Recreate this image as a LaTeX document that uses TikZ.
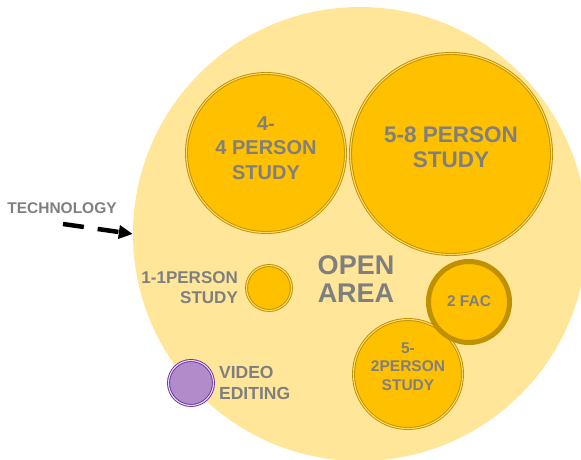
\documentclass[tikz,border=0pt]{standalone}
\usepackage{fontspec}
\setmainfont{Liberation Sans}
\usetikzlibrary{arrows.meta,positioning}

\definecolor{paleyellow}{HTML}{FFE699}
\definecolor{roomgold}{HTML}{FFC000}
\definecolor{rimgold}{HTML}{BF9000}
\definecolor{gapgold}{HTML}{FFD966}
\definecolor{labelgray}{HTML}{7F7F7F}
\definecolor{videopurple}{HTML}{B18CCB}
\definecolor{rimpurple}{HTML}{7030A0}
\definecolor{gappurple}{HTML}{E8DAF2}

\newcommand{\fsz}[2]{\bfseries\fontsize{#1}{#2}\selectfont}

\begin{document}
\begin{tikzpicture}[x=1pt,y=-1pt,
    room/.style={circle,inner sep=0pt,fill=roomgold,draw=rimgold,line width=0.9pt,double=gapgold,double distance=1.1pt},
    label/.style={inner sep=0pt,text=labelgray,align=center}]
    \useasboundingbox (0,0) rectangle (581,460);

    % open area
    \node[circle,inner sep=0pt,fill=paleyellow,minimum size=454pt] (open) at (360,234) {};
    \node[label,font=\fsz{27}{28}] (openlbl) at (356,279) {OPEN\\AREA};

    % study rooms
    \node[room,minimum size=159pt] (four) at (266,153) {};
    \node[label,font=\fsz{20}{24.5}] (fourlbl) at ([yshift=5pt]four.center) {4-\\4 PERSON\\STUDY};

    \node[room,minimum size=201pt] (eight) at (451,154) {};
    \node[label,font=\fsz{22.5}{25}] (eightlbl) at ([yshift=6.5pt]eight.center) {5-8 PERSON\\STUDY};

    \node[room,minimum size=45pt] (one) at (269,288) {};
    \node[label,align=right,font=\fsz{17}{20}] (onelbl) [left=8pt of one] {1-1PERSON\\STUDY};

    \node[room,minimum size=109pt] (two) at (408,374) {};
    \node[label,font=\fsz{15.5}{18.5}] (twolbl) at ([yshift=7.5pt]two.center) {5-\\2PERSON\\STUDY};

    % faculty room
    \node[circle,inner sep=0pt,fill=roomgold,draw=rimgold,line width=5pt,minimum size=81pt] (fac) at (469,302) {};
    \node[label,font=\fsz{15.5}{18}] (faclbl) at ([yshift=1pt]fac.center) {2 FAC};

    % video editing
    \node[room,fill=videopurple,draw=rimpurple,double=gappurple,minimum size=45pt] (video) at (191,383) {};
    \node[label,align=left,font=\fsz{17.5}{21}] (videolbl) [right=5pt of video] {VIDEO\\EDITING};

    % technology
    \node[label,font=\fsz{15.5}{18}] (tech) at (62,208) {TECHNOLOGY};
    \coordinate (techstart) at (63,224);
    \draw[line width=4.5pt,dash pattern=on 21pt off 14pt,-{Triangle[length=14pt,width=13pt]}] (techstart) -- (open.west);
\end{tikzpicture}
\end{document}
